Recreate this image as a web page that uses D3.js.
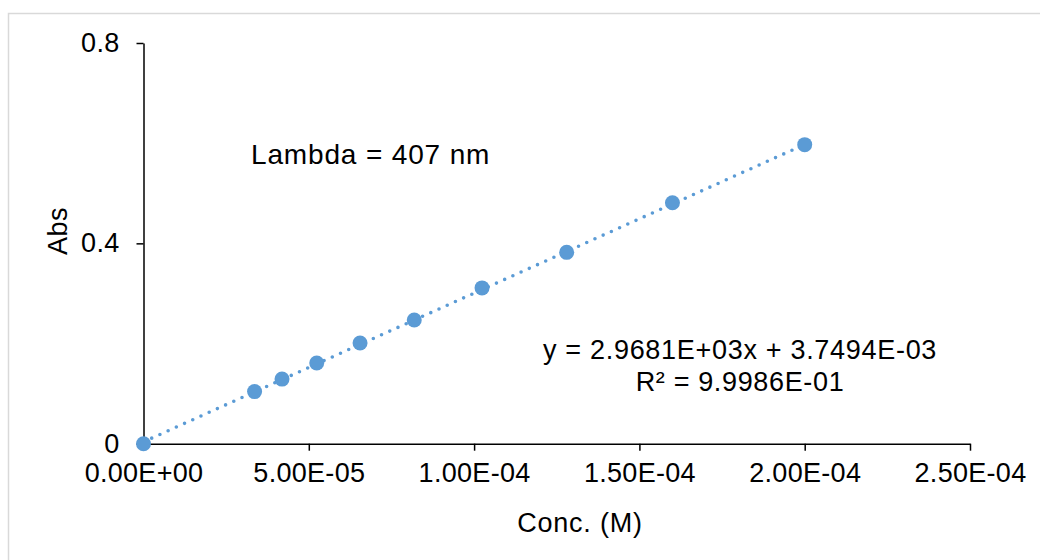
<!DOCTYPE html>
<html>
<head>
<meta charset="utf-8">
<script src="https://cdn.jsdelivr.net/npm/d3@7"></script>
<style>
  html, body { margin: 0; padding: 0; background: #fff; }
  svg { display: block; font-family: "Liberation Sans", Arial, sans-serif; }
</style>
</head>
<body>
<svg id="chart" width="1040" height="560"></svg>
<script>
// Calibration data: concentration (M) vs absorbance at 407 nm
const concentrations = [0, 3.36e-5, 4.19e-5, 5.24e-5, 6.55e-5, 8.19e-5, 1.024e-4, 1.28e-4, 1.6e-4, 2.0e-4];
const absorbances    = [0, 0.104, 0.129, 0.161, 0.201, 0.247, 0.311, 0.382, 0.481, 0.597];

// Linear fit reported on the chart
const fitSlope = 2.9681e3;
const fitIntercept = 3.7494e-3;
const fitR2 = 9.9986e-1;

const xTicks = [0, 5e-5, 1e-4, 1.5e-4, 2e-4, 2.5e-4];
const yTicks = [0, 0.4, 0.8];

const xTitle = "Conc. (M)";
const yTitle = "Abs";
const note = "Lambda = 407 nm";

const svg = d3.select("#chart");
const color = "#5b9bd5";
const fontSize = "27px";

// chart-area frame
svg.append("rect")
  .attr("x", 8.5).attr("y", 13.5)
  .attr("width", 1100).attr("height", 600)
  .attr("fill", "#fff")
  .attr("stroke", "#d9d9d9").attr("stroke-width", 1.5);

const x = d3.scaleLinear().domain([0, 2.5e-4]).range([143.5, 970]);
const y = d3.scaleLinear().domain([0, 0.8]).range([443.7, 43]);

// Excel-style scientific notation, e.g. 2.9681E+03
const sci = (v, digits) => {
  if (v === 0) return (0).toFixed(digits) + "E+00";
  return v.toExponential(digits).toUpperCase().replace(/E([+-])(\d)$/, "E$10$2");
};

// x axis
const xAxis = svg.append("g")
  .attr("transform", `translate(0,${y(0)})`)
  .call(d3.axisBottom(x).tickValues(xTicks).tickFormat(v => sci(v, 2))
    .tickSizeInner(7).tickSizeOuter(0).tickPadding(12));

// y axis
const yAxis = svg.append("g")
  .attr("transform", `translate(${x(0)},0)`)
  .call(d3.axisLeft(y).tickValues(yTicks).tickFormat(d3.format("~g"))
    .tickSizeInner(7).tickSizeOuter(0).tickPadding(17));

[xAxis, yAxis].forEach(g => {
  g.select(".domain").attr("stroke", "#000").attr("stroke-width", 1.5);
  g.selectAll(".tick line").attr("stroke", "#000").attr("stroke-width", 1.5);
  g.selectAll(".tick text")
    .attr("fill", "#000")
    .style("font-size", fontSize)
    .style("letter-spacing", "0.3px")
    .style("font-family", "'Liberation Sans', Arial, sans-serif");
});

// axis titles
svg.append("text")
  .attr("x", 580).attr("y", 532)
  .attr("text-anchor", "middle")
  .style("font-size", fontSize)
  .style("letter-spacing", "0.8px")
  .text(xTitle);

svg.append("text")
  .attr("transform", "translate(67,231) rotate(-90)")
  .attr("text-anchor", "middle")
  .style("font-size", fontSize)
  .style("letter-spacing", "0.5px")
  .text(yTitle);

// trendline over the measured range
const xMin = d3.min(concentrations), xMax = d3.max(concentrations);
const fit = v => fitSlope * v + fitIntercept;
svg.append("line")
  .attr("x1", x(xMin)).attr("y1", y(fit(xMin)))
  .attr("x2", x(xMax)).attr("y2", y(fit(xMax)))
  .attr("stroke", color)
  .attr("stroke-width", 3.6)
  .attr("stroke-linecap", "round")
  .attr("stroke-dasharray", "0 9");

// data markers
svg.append("g").selectAll("circle")
  .data(concentrations.map((c, i) => [c, absorbances[i]]))
  .join("circle")
  .attr("cx", d => x(d[0]))
  .attr("cy", d => y(d[1]))
  .attr("r", 7.5)
  .attr("fill", color);

// annotations
svg.append("text")
  .attr("x", 251).attr("y", 163.5)
  .style("font-size", "28px")
  .style("letter-spacing", "0.85px")
  .text(note);

const eqLine = `y = ${sci(fitSlope, 4)}x + ${sci(fitIntercept, 4)}`;
const r2Line = `R² = ${sci(fitR2, 4)}`;

svg.append("text")
  .attr("x", 740).attr("y", 359.3)
  .attr("text-anchor", "middle")
  .style("font-size", fontSize)
  .style("letter-spacing", "0.7px")
  .text(eqLine);
svg.append("text")
  .attr("x", 740).attr("y", 391)
  .attr("text-anchor", "middle")
  .style("font-size", fontSize)
  .style("letter-spacing", "0.65px")
  .text(r2Line);
</script>
</body>
</html>
